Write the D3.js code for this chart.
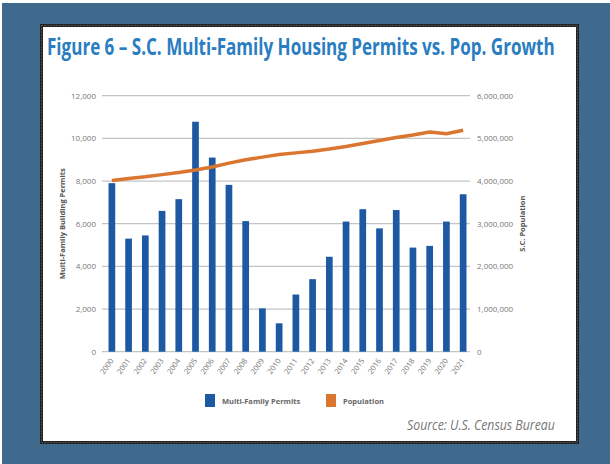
<!DOCTYPE html>
<meta charset="utf-8">
<script src="https://d3js.org/d3.v7.min.js"></script>
<style>
body { margin: 0; background: #fff; }
text { font-family: "Open Sans", sans-serif; }
</style>
<body>
<div id="chart"></div>
<script>
// data
var years = d3.range(2000, 2022).map(String);
var permits = [7900, 5300, 5450, 6600, 7150, 10780, 9100, 7820, 6120, 2030,
               1330, 2680, 3400, 4450, 6100, 6680, 5780, 6640, 4880, 4960, 6100, 7380];
var population = [4010000, 4060000, 4100000, 4150000, 4200000, 4260000, 4330000, 4420000,
                  4500000, 4560000, 4620000, 4660000, 4700000, 4750000, 4810000, 4880000,
                  4950000, 5020000, 5080000, 5150000, 5110000, 5190000];
var leftTicks = [0, 2000, 4000, 6000, 8000, 10000, 12000];
var rightTicks = [0, 1000000, 2000000, 3000000, 4000000, 5000000, 6000000];

var W = 610, H = 464;
var plot = {left: 102, right: 470, top: 95.7, bottom: 351.7};

var svg = d3.select("#chart").append("svg")
    .attr("width", W).attr("height", H);

// frame
svg.append("rect").attr("x", 2).attr("y", 3).attr("width", W - 2).attr("height", H - 3)
    .attr("fill", "#3f6a8d");
svg.append("rect").attr("x", 41.5).attr("y", 25.5).attr("width", 536).attr("height", 417)
    .attr("fill", "#fff").attr("stroke", "#222").attr("stroke-width", 3);
svg.append("rect").attr("x", 41.5).attr("y", 25.5).attr("width", 536).attr("height", 417)
    .attr("fill", "none").attr("stroke", "#777").attr("stroke-width", 1)
    .attr("stroke-dasharray", "1,2");

// squeeze a text horizontally so it fits a given width (condensed look)
function squeeze(t, x, y, width, anchorRight) {
  var w = t.node().getComputedTextLength();
  var k = width / w;
  var x0 = anchorRight ? x - width : x;
  t.attr("transform", "translate(" + x0 + "," + y + ") scale(" + k + ",1)");
}

// title
var title = svg.append("text")
    .attr("font-size", 23).attr("font-weight", 700)
    .attr("fill", "#2a7dc0")
    .text("Figure 6 \u2013 S.C. Multi-Family Housing Permits vs. Pop. Growth");
squeeze(title, 47, 55, 508, false);

var x = d3.scaleBand().domain(years)
    .range([plot.left + 1.5, plot.right + 1.5])
    .paddingInner(0.6).paddingOuter(0.3);
var yL = d3.scaleLinear().domain([0, 12000]).range([plot.bottom, plot.top]);
var yR = d3.scaleLinear().domain([0, 6000000]).range([plot.bottom, plot.top]);

// gridlines
svg.append("g").selectAll("line").data(leftTicks).join("line")
    .attr("x1", plot.left).attr("x2", plot.right)
    .attr("y1", d => yL(d)).attr("y2", d => yL(d))
    .attr("stroke", "#c4c4c4").attr("stroke-width", 1.3);

// left axis labels
var fmt = d3.format(",");
svg.append("g").selectAll("text").data(leftTicks).join("text")
    .attr("x", 96).attr("y", d => yL(d) + 3)
    .attr("text-anchor", "end").attr("font-size", 8).attr("fill", "#777")
    .text(d => fmt(d));

// right axis labels
svg.append("g").selectAll("text").data(rightTicks).join("text")
    .attr("x", 477).attr("y", d => yR(d) + 3)
    .attr("font-size", 8).attr("fill", "#777")
    .text(d => fmt(d));

// axis titles
svg.append("text")
    .attr("transform", "translate(65," + ((plot.top + plot.bottom) / 2) + ") rotate(-90)")
    .attr("text-anchor", "middle").attr("font-size", 7.5).attr("font-weight", 700)
    .attr("fill", "#555").text("Multi-Family Building Permits");
svg.append("text")
    .attr("transform", "translate(525," + ((plot.top + plot.bottom) / 2) + ") rotate(-90)")
    .attr("text-anchor", "middle").attr("font-size", 7.5).attr("font-weight", 700)
    .attr("fill", "#555").text("S.C. Population");

// bars
svg.append("g").selectAll("rect").data(permits).join("rect")
    .attr("x", (d, i) => x(years[i]))
    .attr("y", d => yL(d))
    .attr("width", x.bandwidth())
    .attr("height", d => yL(0) - yL(d))
    .attr("fill", "#1d58a3");

// population line
var line = d3.line()
    .x((d, i) => x(years[i]) + x.bandwidth() / 2)
    .y(d => yR(d));
svg.append("path").datum(population)
    .attr("d", line)
    .attr("fill", "none").attr("stroke", "#db7630").attr("stroke-width", 3.5)
    .attr("stroke-linejoin", "round");

// x labels
svg.append("g").selectAll("text").data(years).join("text")
    .attr("transform", d => "translate(" + (x(d) + x.bandwidth() / 2 + 2) + "," + (plot.bottom + 9) + ") rotate(-55)")
    .attr("text-anchor", "end").attr("font-size", 7.5).attr("fill", "#777")
    .text(d => d);

// legend
var legend = svg.append("g");
var items = [{name: "Multi-Family Permits", color: "#1d58a3", x: 205},
             {name: "Population", color: "#db7630", x: 326}];
legend.selectAll("rect").data(items).join("rect")
    .attr("x", d => d.x).attr("y", 394).attr("width", 10).attr("height", 13)
    .attr("fill", d => d.color);
legend.selectAll("text").data(items).join("text")
    .attr("x", d => d.x + 17).attr("y", 403.5)
    .attr("font-size", 7.5).attr("font-weight", 700).attr("fill", "#666")
    .text(d => d.name);

// source
var source = svg.append("text")
    .attr("font-size", 14).attr("font-style", "italic")
    .attr("fill", "#777")
    .text("Source: U.S. Census Bureau");
squeeze(source, 555, 430, 148, true);
</script>
</body>
